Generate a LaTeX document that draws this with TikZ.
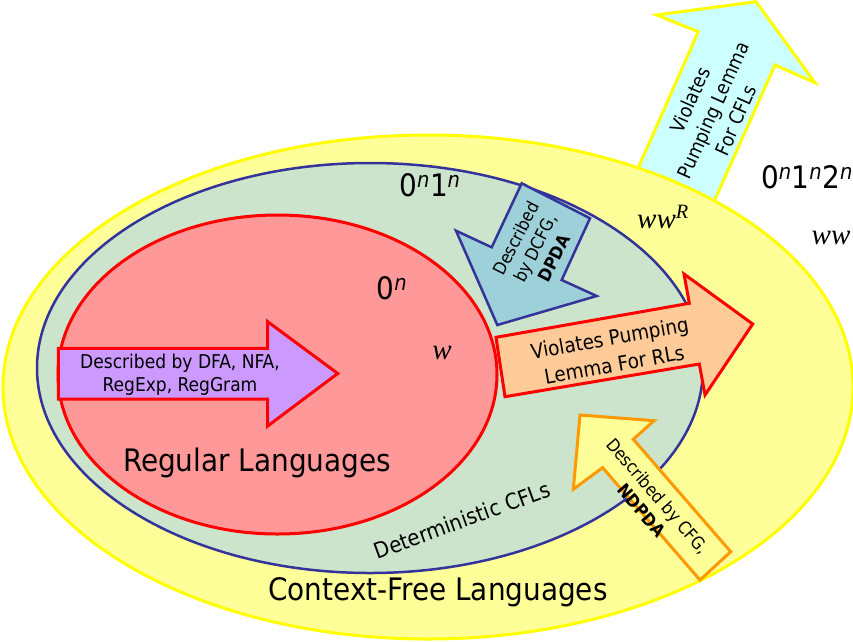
\documentclass[tikz,border=0pt]{standalone}
\usepackage{fontspec}
\setmainfont{DejaVu Sans Condensed}
\newfontfamily\timesfont{Liberation Serif}
\definecolor{yfill}{HTML}{FFFF99}
\definecolor{yline}{HTML}{FFFF00}
\definecolor{gfill}{HTML}{CCE4CC}
\definecolor{bline}{HTML}{333399}
\definecolor{rfill}{HTML}{FF9999}
\definecolor{rline}{HTML}{FF0000}
\definecolor{pfill}{HTML}{CC99FF}
\definecolor{dfill}{HTML}{9DD0D8}
\definecolor{ofill}{HTML}{FFCC99}
\definecolor{oline}{HTML}{FF9900}
\definecolor{cfill}{HTML}{CCFFFF}
\tikzset{
  txt/.style={inner sep=0pt, align=center, text=black},
  sup/.style={txt, font=\fontsize{31}{34}\selectfont},
  ital/.style={txt, font=\fontsize{29}{32}\selectfont\timesfont\itshape},
  bigtxt/.style={txt, font=\fontsize{31}{34}\selectfont},
  bw/.style={line width=3pt, line join=miter},
}
\newcommand{\sn}{\textsuperscript{\itshape n}}
\begin{document}
\begin{tikzpicture}[x=1pt,y=-1pt]
\useasboundingbox (0,0) rectangle (853,641);
% cyan arrow (behind the CFL ellipse)
\draw[bw, draw=yline, fill=cfill] (632,182) -- (698.3,31.7) -- (656.7,15) -- (756,1.7) -- (815,82.7) -- (775,65) -- (708,215) -- cycle;
% ellipses
\draw[bw, draw=yline, fill=yfill] (428,387) ellipse [x radius=425pt, y radius=252pt];
\draw[line width=2.5pt, draw=bline, fill=gfill] (370,368) ellipse [x radius=333pt, y radius=205pt];
\draw[bw, draw=rline, fill=rfill] (277.5,374.5) ellipse [x radius=219.5pt, y radius=159.5pt];
% purple arrow
\draw[bw, draw=rline, fill=pfill] (58.3,348.3) -- (267.7,348.3) -- (267.7,321.7) -- (337.7,373.5) -- (267.7,426) -- (267.7,399) -- (58.3,399) -- cycle;
% DPDA arrow
\draw[line width=2.5pt, draw=bline, fill=dfill, line join=miter] (521.7,183.3) -- (590,218.3) -- (561.7,280) -- (596.7,296) -- (497.3,325) -- (456,230.7) -- (491.7,247.3) -- cycle;
% RL arrow
\draw[bw, draw=rline, fill=ofill] (496,337.3) -- (689.3,303.3) -- (684,274) -- (752.7,324) -- (705,395) -- (699.3,364) -- (505,396.7) -- cycle;
% NDPDA arrow
\draw[bw, draw=oline, fill=yfill] (573.3,489.3) -- (580,415) -- (654,420.7) -- (633.3,439.3) -- (730.7,551.7) -- (700,580) -- (602.6,467.6) -- cycle;
% texts
\node[txt, font=\fontsize{19.5}{25}\selectfont, rotate=66] (tcfl) at (713,110) {Violates\\Pumping Lemma\\For CFLs};
\node[sup] (l012) at (807,177) {0\sn1\sn2\sn};
\node[ital] (lww) at (831,238) {ww};
\node[ital] (lwwr) at (663,217) {ww\textsuperscript{R}};
\node[sup] (l01) at (430,185) {0\sn1\sn};
\node[sup] (l0) at (392,288) {0\sn};
\node[ital] (lw) at (442,353) {w};
\node[txt, font=\fontsize{17.5}{21.5}\selectfont, rotate=63] (tdpda) at (535,248) {Described\\by DCFG,\\\textbf{DPDA}};
\node[txt, font=\fontsize{19}{23}\selectfont] (tfa) at (180,374.5) {Described by DFA, NFA,\\RegExp, RegGram};
\node[txt, font=\fontsize{20.5}{27}\selectfont, rotate=10] (trl) at (612,351) {Violates Pumping\\Lemma For RLs};
\node[txt, font=\fontsize{17.5}{22}\selectfont, rotate=-49] (tnd) at (650,503) {Described by CFG,\\\textbf{NDPDA}};
\node[bigtxt] (treg) at (257,463) {Regular Languages};
\node[txt, font=\fontsize{22}{26}\selectfont, rotate=20] (tdcfl) at (462,520) {Deterministic CFLs};
\node[bigtxt] (tcf) at (438,592) {Context-Free Languages};
\end{tikzpicture}
\end{document}
